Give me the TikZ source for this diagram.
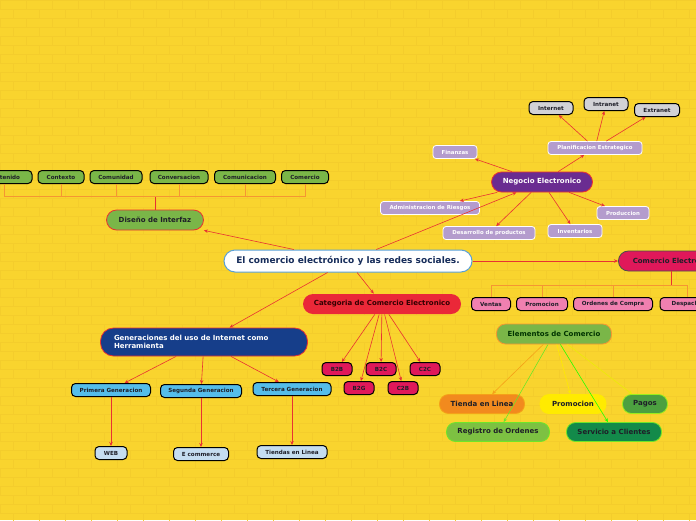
\documentclass[tikz,border=0pt]{standalone}
\usepackage{fontspec}
\setmainfont{DejaVu Sans}
\definecolor{bgyellow}{RGB}{249,212,46}
\definecolor{brick}{RGB}{244,205,44}
\definecolor{linered}{RGB}{232,50,50}
\definecolor{lineorange}{RGB}{245,150,50}
\definecolor{navy}{RGB}{22,44,90}
\definecolor{rootblue}{RGB}{90,160,215}
\definecolor{leafgreen}{RGB}{122,182,72}
\definecolor{bizpurple}{RGB}{106,44,145}
\definecolor{lavender}{RGB}{180,156,205}
\definecolor{silver}{RGB}{210,210,214}
\definecolor{crimson}{RGB}{224,24,90}
\definecolor{catred}{RGB}{234,40,56}
\definecolor{pinkbox}{RGB}{240,128,176}
\definecolor{genblue}{RGB}{22,62,138}
\definecolor{skyblue}{RGB}{85,189,234}
\definecolor{paleblue}{RGB}{197,221,240}
\definecolor{inktext}{RGB}{30,30,40}
\definecolor{shoporange}{RGB}{242,138,30}
\definecolor{promoyellow}{RGB}{255,235,0}
\definecolor{paygreen}{RGB}{76,160,64}
\definecolor{ordergreen}{RGB}{125,193,66}
\definecolor{servgreen}{RGB}{19,138,74}
\definecolor{limegreen}{RGB}{110,230,40}
\usetikzlibrary{positioning,arrows.meta}
\tikzset{
  rootbox/.style={draw=rootblue,fill=white,line width=1pt,rounded corners=11pt,
                  minimum width=248,minimum height=22,text=navy,
                  font=\fontsize{9}{10}\selectfont\bfseries},
  topic/.style={rounded corners=10pt,line width=0.8pt,minimum height=20,
                text=inktext,font=\fontsize{7}{8.4}\selectfont\bfseries},
  chip/.style={draw=black,line width=1pt,rounded corners=4pt,minimum height=13,
               inner sep=1pt,text=inktext,font=\fontsize{5.6}{6.4}\selectfont\bfseries},
  soft/.style={draw=white,fill=lavender,line width=0.8pt,rounded corners=3pt,
               minimum height=13,inner sep=1pt,text=white,
               font=\fontsize{5.4}{6.4}\selectfont\bfseries},
  pill/.style={rounded corners=9pt,line width=0.8pt,minimum height=19,
               text=inktext,font=\fontsize{7}{8.4}\selectfont\bfseries},
  arr/.style={-{Stealth[length=4pt,width=3.5pt]},linered,line width=0.6pt},
  tree/.style={lineorange,line width=0.6pt},
}

\begin{document}
\begin{tikzpicture}[x=1pt,y=-1pt]
  \path[use as bounding box] (0,0) rectangle (696,520);
  \clip (0,0) rectangle (696,520);
  \fill[bgyellow] (0,0) rectangle (696,520);
  % brick background
  \foreach \y in {0,9,...,520} \draw[brick,line width=0.4pt] (0,\y) -- (696,\y);
  \foreach \y in {0,18,...,520}
    \foreach \x in {0,26,...,696} {
      \draw[brick,line width=0.4pt] (\x,\y) -- (\x,\y+9);
      \draw[brick,line width=0.4pt] (\x+13,\y+9) -- (\x+13,\y+18);
    }

  % central topic
  \node[rootbox] (root) at (348,261) {El comercio electrónico y las redes sociales.};

  % Diseño de Interfaz
  \node[topic,draw=linered,fill=leafgreen,minimum width=97] (design) at (155,220) {Diseño de Interfaz};
  \node[chip,fill=leafgreen,minimum width=56] (cont) at (4,177) {Contenido};
  \node[chip,fill=leafgreen,minimum width=46] (ctx) at (61,177) {Contexto};
  \node[chip,fill=leafgreen,minimum width=52] (cmd) at (116,177) {Comunidad};
  \node[chip,fill=leafgreen,minimum width=58] (conv) at (179,177) {Conversacion};
  \node[chip,fill=leafgreen,minimum width=61] (comu) at (245,177) {Comunicacion};
  \node[chip,fill=leafgreen,minimum width=47] (come) at (305,177) {Comercio};
  \coordinate (dj) at (155,196);
  \draw[linered,line width=0.6pt] (design) -- (dj);
  \foreach \n in {cont,ctx,cmd,conv,comu,come}
    \draw[tree] (\n.south) |- (dj);
  \draw[arr] (root) -- (design);

  % Negocio Electronico
  \node[topic,draw=linered,fill=bizpurple,text=white,minimum width=101] (biz) at (542,182) {Negocio Electronico};
  \node[soft,minimum width=44] (fin) at (455,152) {Finanzas};
  \node[soft,minimum width=94] (plan) at (595,148) {Planificacion Estrategico};
  \node[soft,minimum width=99] (risk) at (430,208) {Administracion de Riesgos};
  \node[soft,minimum width=92] (dev) at (489,233) {Desarrollo de productos};
  \node[soft,minimum width=54] (inv) at (575,231) {Inventarios};
  \node[soft,minimum width=52] (prod) at (623,213) {Produccion};
  \node[chip,fill=silver,minimum width=44] (inet) at (551,108) {Internet};
  \node[chip,fill=silver,minimum width=44] (intra) at (606,104) {Intranet};
  \node[chip,fill=silver,minimum width=45] (extra) at (657,110) {Extranet};
  \foreach \n in {fin,plan,risk,dev,inv,prod}
    \draw[arr] (biz) -- (\n);
  \foreach \n in {inet,intra,extra}
    \draw[arr] (plan) -- (\n);
  \draw[arr] (root) -- (biz);

  % Comercio Electronico
  \node[topic,draw=black!70,fill=crimson,minimum width=112,anchor=west] (ecom) at (618,261) {Comercio Electronico};
  \node[chip,fill=pinkbox,minimum width=39] (sale) at (491,304) {Ventas};
  \node[chip,fill=pinkbox,minimum width=51] (promo) at (542,304) {Promocion};
  \node[chip,fill=pinkbox,minimum width=79] (order) at (613,304) {Ordenes de Compra};
  \node[chip,fill=pinkbox,minimum width=54] (ship) at (687,304) {Despacho};
  \coordinate (cj) at (671,285);
  \draw[linered,line width=0.6pt] (ecom.south -| cj) -- (cj);
  \foreach \n in {sale,promo,order,ship}
    \draw[tree] (\n.north) |- (cj);
  \draw[arr] (root) -- (ecom);

  % Categoria de Comercio Electronico
  \node[topic,fill=catred,text=black!80!red,minimum width=158] (cat) at (382,304) {Categoria de Comercio Electronico};
  \node[chip,fill=crimson,minimum width=30] (btb) at (337,369) {B2B};
  \node[chip,fill=crimson,minimum width=30] (btc) at (381,369) {B2C};
  \node[chip,fill=crimson,minimum width=30] (ctc) at (425,369) {C2C};
  \node[chip,fill=crimson,minimum width=30] (btg) at (359,388) {B2G};
  \node[chip,fill=crimson,minimum width=30] (ctb) at (403,388) {C2B};
  \foreach \n in {btb,btc,ctc,btg,ctb}
    \draw[arr] (cat) -- (\n);
  \draw[arr] (root) -- (cat);

  % Generaciones
  \node[topic,draw=linered,fill=genblue,text=white,minimum width=207,minimum height=28,
        rounded corners=13pt,text width=180,align=left] (gen) at (204,342)
        {Generaciones del uso de Internet como\\Herramienta};
  \node[chip,fill=skyblue,minimum width=79] (gen1) at (111,390) {Primera Generacion};
  \node[chip,fill=skyblue,minimum width=81] (gen2) at (201,391) {Segunda Generacion};
  \node[chip,fill=skyblue,minimum width=78] (gen3) at (292,389) {Tercera Generacion};
  \node[chip,fill=paleblue,minimum width=32] (web) at (111,453) {WEB};
  \node[chip,fill=paleblue,minimum width=55] (ecmr) at (201,454) {E commerce};
  \node[chip,fill=paleblue,minimum width=70] (shops) at (292,452) {Tiendas en Linea};
  \foreach \n in {gen1,gen2,gen3}
    \draw[arr] (gen) -- (\n);
  \draw[arr] (gen1) -- (web);
  \draw[arr] (gen2) -- (ecmr);
  \draw[arr] (gen3) -- (shops);
  \draw[arr] (root) -- (gen);

  % Elementos de Comercio
  \node[pill,draw=lineorange,fill=leafgreen,text=green!20!black,minimum width=115,minimum height=20] (elem) at (554,334) {Elementos de Comercio};
  \node[pill,draw=shoporange!80!yellow,fill=shoporange,minimum width=85] (store) at (482,404) {Tienda en Linea};
  \node[pill,draw=promoyellow,fill=promoyellow,minimum width=66] (adv) at (573,404) {Promocion};
  \node[pill,draw=limegreen!70!yellow,fill=paygreen,minimum width=45] (pay) at (645,404) {Pagos};
  \node[pill,draw=limegreen,fill=ordergreen,minimum width=103] (reg) at (498,432) {Registro de Ordenes};
  \node[pill,draw=limegreen,fill=servgreen,minimum width=95] (serv) at (614,432) {Servicio a Clientes};
  \draw[arr,draw=shoporange!80!yellow] (elem) -- (store);
  \draw[arr,draw=limegreen] (elem) -- (reg);
  \draw[arr,draw=promoyellow] (elem) -- (adv);
  \draw[arr,draw=green!80!lime] (elem) -- (serv);
  \draw[arr,draw=yellow!70!lime] (elem) -- (pay);
\end{tikzpicture}
\end{document}
